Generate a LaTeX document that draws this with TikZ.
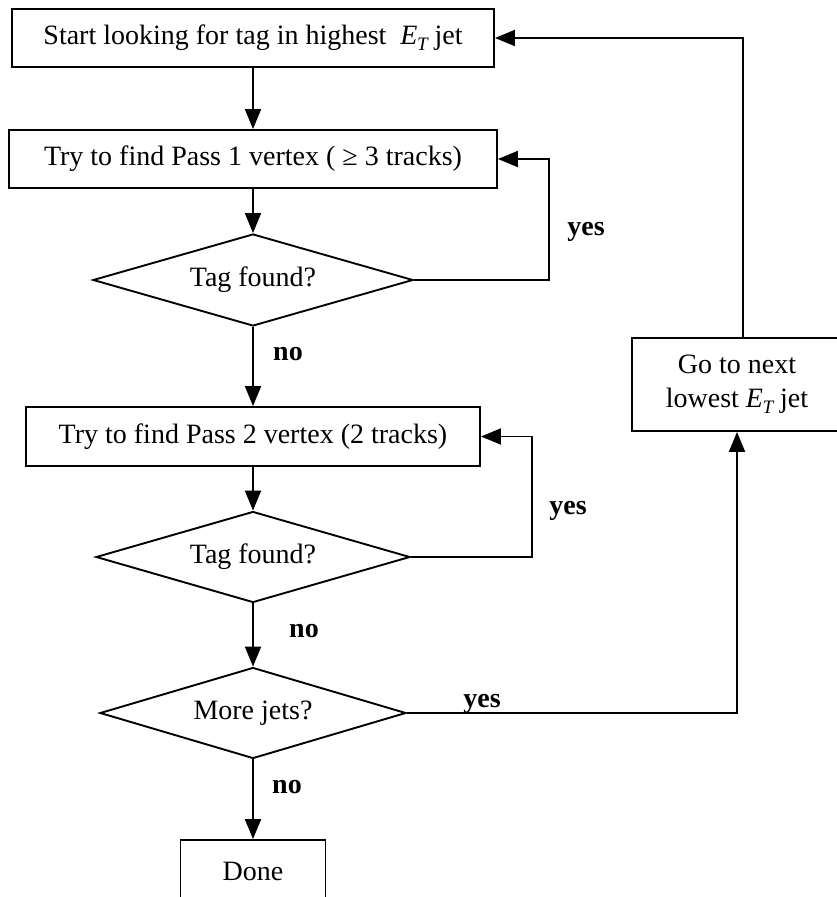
\documentclass[tikz,border=0pt]{standalone}
\usepackage{fontspec}
\setmainfont{Liberation Serif}
\usetikzlibrary{shapes.geometric,arrows.meta,calc}
\newcommand{\ETsym}{{\itshape E}\kern-0.5pt\raisebox{-0.22em}{\fontsize{19}{19}\selectfont\itshape T}}
\begin{document}
\begin{tikzpicture}[x=1pt,y=-1pt,
  every node/.style={font=\fontsize{28}{34}\selectfont},
  box/.style={draw, line width=1.9pt, inner sep=0pt},
  dia/.style={draw, diamond, line width=1.9pt, inner sep=0pt, aspect=3.4},
  arr/.style={line width=1.9pt, -{Triangle[length=20pt,width=16pt]}},
  lab/.style={font=\fontsize{28}{34}\selectfont\bfseries, inner sep=0pt, anchor=base}]
\useasboundingbox (0,0) rectangle (836,897);

\node[box, minimum width=482pt, minimum height=58pt] (b1) at (253,38)
  {Start looking for tag in highest\hspace{0.5em}\ETsym\hspace{0.25em}jet};
\node[box, minimum width=488pt, minimum height=58pt] (b2) at (253,159)
  {Try to find Pass 1 vertex ( ≥ 3 tracks)};
\node[dia, minimum width=320pt, minimum height=92pt] (d1) at (253,280) {Tag found?};
\node[box, minimum width=454pt, minimum height=59pt] (b3) at (253,436.5)
  {Try to find Pass 2 vertex (2 tracks)};
\node[dia, minimum width=314pt, minimum height=91pt] (d2) at (253,557) {Tag found?};
\node[dia, minimum width=306pt, minimum height=91pt] (d3) at (253,713) {More jets?};
\node[box, minimum width=145pt, minimum height=62pt] (done) at (253,871) {Done};
\node[box, minimum width=210pt, minimum height=93pt, align=center] (b4) at (737,384.5)
  {Go to next\\lowest \ETsym\hspace{0.25em}jet};

\coordinate (l1) at (549,0);
\coordinate (l2) at (532,0);
\coordinate (b4top) at ($(b4.north)+(6,0)$);

\draw[arr] (b1.south) -- (b2.north);
\draw[arr] (b2.south) -- (d1.north);
\draw[arr] (d1.east) -- (d1.east -| l1) -- (b2.east -| l1) -- (b2.east);
\draw[arr] (d1.south) -- (b3.north);
\draw[arr] (b3.south) -- (d2.north);
\draw[arr] (d2.east) -- (d2.east -| l2) -- (b3.east -| l2) -- (b3.east);
\draw[arr] (d2.south) -- (d3.north);
\draw[arr] (d3.east) -| (b4.south);
\draw[arr] (b4top) |- (b1.east);
\draw[arr] (d3.south) -- (done.north);

\node[lab] (y1) at (586,235) {yes};
\node[lab] (n1) at (288,360) {no};
\node[lab] (y2) at (568,514) {yes};
\node[lab] (n2) at (304,637) {no};
\node[lab] (y3) at (482,707) {yes};
\node[lab] (n3) at (287,793) {no};
\end{tikzpicture}
\end{document}
